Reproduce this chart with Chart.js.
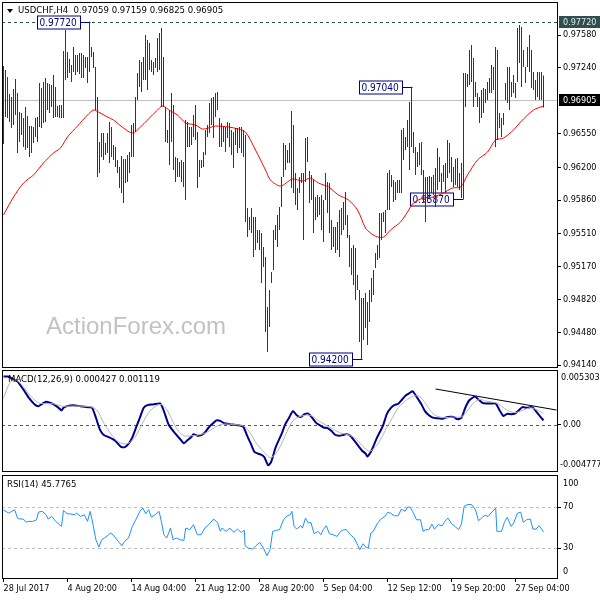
<!DOCTYPE html>
<html>
<head>
<meta charset="utf-8">
<title>USDCHF H4</title>
<script src="https://cdn.jsdelivr.net/npm/chart.js@4.4.1/dist/chart.umd.min.js"></script>
<style>
  html, body { margin: 0; padding: 0; background: #fff; }
  #wrap { position: relative; width: 600px; height: 600px; overflow: hidden; background: #fff; }
  #wrap canvas { position: absolute; left: 0; }
</style>
</head>
<body>
<div id="wrap">
  <canvas id="priceChart" width="600" height="369" style="top:0"></canvas>
  <canvas id="macdChart" width="600" height="104" style="top:369px"></canvas>
  <canvas id="rsiChart" width="600" height="127" style="top:473px"></canvas>
</div>
<script>
// ---- price bars (H4), one per bar from 28 Jul 2017 ----
const barHigh = [
  0.97257, 0.97215, 0.97142, 0.96965, 0.96934, 0.97017, 0.97122, 0.96976, 0.96778, 0.96767,
  0.96715, 0.96830, 0.96736, 0.96632, 0.96632, 0.96621, 0.96715, 0.96725, 0.97080, 0.97028,
  0.97090, 0.97132, 0.97080, 0.97069, 0.97059, 0.97163, 0.97038, 0.96840, 0.96851, 0.96851,
  0.97413, 0.97632, 0.97403, 0.97330, 0.97267, 0.97455, 0.97372, 0.97372, 0.97392, 0.97392,
  0.97372, 0.97351, 0.97351, 0.97720, 0.97455, 0.97403, 0.97247, 0.96934, 0.96465, 0.96559,
  0.96559, 0.96454, 0.96559, 0.96673, 0.96621, 0.96434, 0.96413, 0.96277, 0.96204, 0.96319,
  0.96288, 0.96288, 0.96329, 0.96361, 0.96642, 0.96663, 0.96934, 0.97184, 0.97320, 0.97299,
  0.97351, 0.97580, 0.97528, 0.97497, 0.97320, 0.97299, 0.97340, 0.97549, 0.97601, 0.97653,
  0.97351, 0.96830, 0.96590, 0.96798, 0.96976, 0.96851, 0.96308, 0.96298, 0.96256, 0.96277,
  0.96256, 0.96694, 0.96673, 0.96621, 0.96621, 0.96746, 0.96851, 0.96569, 0.96277, 0.96277,
  0.96361, 0.96590, 0.96642, 0.96871, 0.96923, 0.96934, 0.96976, 0.96986, 0.96715, 0.96663,
  0.96621, 0.96621, 0.96673, 0.96663, 0.96590, 0.96569, 0.96611, 0.96611, 0.96621, 0.96621,
  0.96590, 0.96538, 0.95777, 0.95683, 0.95777, 0.95683, 0.95683, 0.95547, 0.95547, 0.95516,
  0.95370, 0.95266, 0.94745, 0.94922, 0.95110, 0.95547, 0.95600, 0.95704, 0.95787, 0.96100,
  0.96454, 0.96434, 0.96381, 0.96454, 0.96788, 0.96642, 0.96142, 0.95985, 0.96100, 0.96142,
  0.96142, 0.96507, 0.96517, 0.96163, 0.96121, 0.96069, 0.95892, 0.95912, 0.95892, 0.95912,
  0.95860, 0.96142, 0.96048, 0.96037, 0.95652, 0.95579, 0.95579, 0.95631, 0.95756, 0.95777,
  0.95839, 0.95944, 0.95704, 0.95495, 0.95360, 0.95391, 0.95360, 0.95078, 0.94922, 0.94839,
  0.94839, 0.94891, 0.94797, 0.94922, 0.95047, 0.95131, 0.95308, 0.95391, 0.95725, 0.95725,
  0.95735, 0.95756, 0.96142, 0.96173, 0.96121, 0.96069, 0.96048, 0.96069, 0.96069, 0.96590,
  0.96611, 0.96517, 0.96694, 0.96882, 0.97040, 0.96569, 0.96413, 0.96361, 0.96454, 0.96465,
  0.96173, 0.96100, 0.96100, 0.96110, 0.96100, 0.96121, 0.96194, 0.96402, 0.96308, 0.96142,
  0.96225, 0.96246, 0.96486, 0.96454, 0.96308, 0.96204, 0.96288, 0.96298, 0.96142, 0.96246,
  0.97184, 0.97184, 0.97174, 0.97424, 0.97476, 0.97340, 0.97090, 0.96976, 0.96934, 0.97007,
  0.97028, 0.97017, 0.97090, 0.97132, 0.97267, 0.97247, 0.97455, 0.97424, 0.96767, 0.96715,
  0.96767, 0.97080, 0.97247, 0.97247, 0.97090, 0.97163, 0.97080, 0.97653, 0.97684, 0.97664,
  0.97424, 0.97247, 0.97455, 0.97580, 0.97424, 0.97195, 0.97111, 0.97195, 0.97195, 0.97195,
  0.97159
];
const barLow = [
  0.96444, 0.96725, 0.96715, 0.96673, 0.96611, 0.96642, 0.96746, 0.96350, 0.96465, 0.96538,
  0.96413, 0.96381, 0.96402, 0.96308, 0.96350, 0.96454, 0.96517, 0.96465, 0.96621, 0.96611,
  0.96663, 0.96673, 0.96798, 0.96767, 0.96830, 0.96715, 0.96725, 0.96725, 0.96715, 0.96715,
  0.96715, 0.97111, 0.97132, 0.97184, 0.97090, 0.97195, 0.97163, 0.97195, 0.97174, 0.97132,
  0.97132, 0.97236, 0.97080, 0.97195, 0.97351, 0.97236, 0.96798, 0.96100, 0.96142, 0.96308,
  0.96277, 0.96329, 0.96350, 0.96246, 0.96308, 0.96277, 0.96204, 0.96142, 0.95985, 0.95933,
  0.95829, 0.96037, 0.96048, 0.96142, 0.96308, 0.96308, 0.96569, 0.96903, 0.97038, 0.96986,
  0.97111, 0.97111, 0.97007, 0.97215, 0.97195, 0.97163, 0.97236, 0.97195, 0.97215, 0.96830,
  0.96830, 0.96465, 0.96454, 0.96225, 0.96465, 0.96173, 0.96048, 0.96100, 0.96100, 0.96048,
  0.95996, 0.95860, 0.96413, 0.96413, 0.96434, 0.96517, 0.96486, 0.95985, 0.96100, 0.96194,
  0.96204, 0.96329, 0.96517, 0.96559, 0.96642, 0.96507, 0.96725, 0.96798, 0.96413, 0.96413,
  0.96465, 0.96361, 0.96507, 0.96413, 0.96329, 0.96194, 0.96434, 0.96350, 0.96402, 0.96350,
  0.96308, 0.95631, 0.95475, 0.95547, 0.95516, 0.95266, 0.95339, 0.95412, 0.95339, 0.94995,
  0.95162, 0.94484, 0.94276, 0.94536, 0.94995, 0.95131, 0.95443, 0.95370, 0.95547, 0.95787,
  0.96100, 0.96173, 0.96246, 0.96246, 0.95985, 0.95933, 0.95808, 0.95756, 0.95933, 0.96037,
  0.95443, 0.96048, 0.96256, 0.95829, 0.95860, 0.95516, 0.95652, 0.95683, 0.95704, 0.95547,
  0.95422, 0.95860, 0.95725, 0.95516, 0.95339, 0.95370, 0.95308, 0.95339, 0.95266, 0.95495,
  0.95547, 0.95600, 0.95464, 0.95162, 0.95078, 0.94974, 0.94818, 0.94922, 0.94380, 0.94200,
  0.94401, 0.94526, 0.94349, 0.94589, 0.94797, 0.94870, 0.95151, 0.95235, 0.95256, 0.95443,
  0.95631, 0.95516, 0.95756, 0.95756, 0.95996, 0.95839, 0.95860, 0.95933, 0.95933, 0.95933,
  0.96277, 0.96381, 0.96413, 0.96173, 0.96413, 0.96350, 0.96121, 0.96204, 0.96225, 0.96121,
  0.95829, 0.95631, 0.95839, 0.95892, 0.95933, 0.95912, 0.95787, 0.95964, 0.96048, 0.95933,
  0.96048, 0.95933, 0.96090, 0.96142, 0.96048, 0.95996, 0.96017, 0.95996, 0.95964, 0.95881,
  0.95870, 0.96830, 0.97038, 0.97059, 0.97090, 0.96830, 0.96934, 0.96830, 0.96663, 0.96715,
  0.96767, 0.96871, 0.96903, 0.96976, 0.96976, 0.97007, 0.96413, 0.96486, 0.96611, 0.96517,
  0.96642, 0.96903, 0.96871, 0.96798, 0.96934, 0.96976, 0.96923, 0.97090, 0.97288, 0.97038,
  0.97247, 0.97080, 0.97247, 0.97195, 0.97028, 0.97007, 0.96903, 0.96934, 0.96903, 0.96903,
  0.96825
];

// moving average (red), read at bar positions
const maIdx = [0, 5, 10, 15, 20, 25, 28.5, 32, 37, 42, 45, 47.5, 52, 55, 60, 64.5, 68.5, 72, 77, 79.5,
  83.5, 87, 91, 93.5, 96, 99.5, 102.5, 106, 112.5, 117.5, 121, 126, 131, 133.5, 138.5, 144.5, 149.5, 153.5, 157.5, 162.5,
  167.5, 172.5, 177, 181, 183.5, 187, 190, 193.5, 198.5, 202, 205, 210, 215, 220, 224.5, 228.5, 232, 237, 242, 246,
  250, 255, 258.5, 265, 270];
const maVal = [0.95704, 0.95891, 0.96037, 0.96121, 0.96246, 0.96350, 0.96402, 0.96517, 0.96631, 0.96746,
  0.96798, 0.96777, 0.96725, 0.96694, 0.96611, 0.96558, 0.96621, 0.96694, 0.96798, 0.96840,
  0.96788, 0.96746, 0.96663, 0.96652, 0.96642, 0.96600, 0.96611, 0.96631, 0.96621, 0.96600,
  0.96569, 0.96381, 0.96173, 0.96068, 0.96006, 0.96079, 0.96058, 0.96089, 0.96037, 0.95996,
  0.95912, 0.95860, 0.95756, 0.95568, 0.95516, 0.95474, 0.95474, 0.95547, 0.95631, 0.95735,
  0.95829, 0.95881, 0.95891, 0.95933, 0.95985, 0.95995, 0.96121, 0.96277, 0.96360, 0.96485,
  0.96506, 0.96590, 0.96673, 0.96798, 0.96840];

// MACD(12,26,9) main and signal
const macdIdx = [0, 2, 4, 7, 10, 12.7, 15.6, 17.5, 19.4, 21.3,
  23.2, 25.1, 27.1, 29, 30, 31.8, 34.7, 38.5, 42.4, 44.3,
  46.2, 48.1, 50, 52.9, 55.8, 58.6, 60.5, 62.5, 64.4, 66.3,
  68.2, 70.1, 72, 74.9, 78.3, 80.2, 82.5, 85.4, 88.3, 90.2,
  92.1, 94, 95, 96.9, 98.8, 100.7, 102.6, 104.6, 106.5, 108.4,
  110.3, 113.2, 117, 119.9, 121.8, 123.7, 125.6, 128.5, 130.4, 132.3,
  133.8, 136.1, 139, 140.9, 142.8, 144.7, 146.6, 148.6, 150.5, 152.4,
  154.3, 156.2, 158.1, 160, 162, 163.9, 165.8, 167.7, 169.6, 171.5,
  173.4, 175.4, 177.3, 179.2, 181.1, 182, 184, 186.8, 189.7, 191.6,
  193.5, 195.4, 197.4, 199.3, 201.2, 203.1, 204.6, 206.9, 208.8, 210.7,
  212.7, 214.6, 216.5, 219.4, 222.2, 225.1, 227, 229, 230.9, 232.8,
  235.6, 237.5, 239.5, 241.4, 244.2, 246.1, 248.1, 250, 251.9, 253.8,
  255.7, 257.6, 259.5, 261.5, 264.3, 266.2, 268.1, 270];
const macdVal = [0.00485, 0.00485, 0.00468, 0.00435, 0.00352, 0.00269, 0.00203, 0.00186, 0.00210, 0.00230,
  0.00220, 0.00203, 0.00176, 0.00143, 0.00170, 0.00186, 0.00196, 0.00186, 0.00176, 0.00170,
  0.00070, -0.00045, -0.00102, -0.00129, -0.00162, -0.00222, -0.00228, -0.00195, -0.00129, -0.00029,
  0.00070, 0.00170, 0.00196, 0.00203, 0.00213, 0.00136, 0.00004, -0.00079, -0.00145, -0.00188,
  -0.00155, -0.00122, -0.00096, -0.00112, -0.00106, -0.00079, -0.00029, 0.00010, 0.00043, 0.00037,
  0.00014, 0.00004, -0.00006, -0.00022, -0.00112, -0.00195, -0.00278, -0.00301, -0.00328, -0.00410,
  -0.00377, -0.00228, -0.00096, 0.00004, 0.00070, 0.00136, 0.00094, 0.00077, 0.00104, 0.00110,
  0.00070, 0.00020, -0.00006, -0.00029, -0.00036, -0.00063, -0.00102, -0.00112, -0.00106, -0.00096,
  -0.00112, -0.00162, -0.00212, -0.00261, -0.00294, -0.00321, -0.00261, -0.00129, -0.00013, 0.00104,
  0.00163, 0.00196, 0.00210, 0.00253, 0.00295, 0.00319, 0.00336, 0.00269, 0.00210, 0.00136,
  0.00094, 0.00070, 0.00064, 0.00060, 0.00077, 0.00077, 0.00053, 0.00070, 0.00170, 0.00243,
  0.00282, 0.00253, 0.00220, 0.00213, 0.00213, 0.00213, 0.00143, 0.00087, 0.00110, 0.00104,
  0.00110, 0.00143, 0.00176, 0.00170, 0.00176, 0.00136, 0.00087, 0.00043];
const sigIdx = [0, 3.1, 6, 9.8, 13.7, 17.5, 21.3, 25.1, 29, 32.8,
  38.5, 44.3, 47.1, 50, 53.8, 57.7, 60.5, 63.4, 66.3, 69.2,
  72, 74.9, 78.7, 81.6, 84.5, 87.3, 90.2, 94, 97.9, 101.7,
  105.5, 109.3, 113.2, 117, 120.8, 123.7, 126.6, 130.4, 133.3, 136.1,
  139, 141.9, 144.7, 147.6, 151.4, 154.3, 157.2, 161, 164.8, 168.6,
  172.5, 176.3, 180.1, 183, 185.9, 188.7, 191.6, 194.5, 197.4, 201.2,
  205, 207.9, 210.8, 213.6, 216.5, 220.3, 225.1, 229, 231.8, 235.6,
  238.5, 241.4, 246.1, 249, 251.9, 255.7, 259.5, 263.4, 266.2, 270];
const sigVal = [0.00269, 0.00418, 0.00452, 0.00385, 0.00286, 0.00220, 0.00210, 0.00210, 0.00186, 0.00186,
  0.00186, 0.00176, 0.00136, 0.00020, -0.00096, -0.00178, -0.00195, -0.00178, -0.00112, 0.00004,
  0.00104, 0.00170, 0.00203, 0.00153, 0.00037, -0.00063, -0.00112, -0.00112, -0.00102, -0.00079,
  -0.00029, 0.00004, 0.00004, -0.00003, -0.00022, -0.00096, -0.00195, -0.00278, -0.00334, -0.00294,
  -0.00195, -0.00063, 0.00037, 0.00077, 0.00097, 0.00087, 0.00043, -0.00003, -0.00045, -0.00085,
  -0.00102, -0.00145, -0.00228, -0.00268, -0.00228, -0.00145, -0.00029, 0.00070, 0.00170, 0.00243,
  0.00286, 0.00286, 0.00220, 0.00136, 0.00087, 0.00070, 0.00077, 0.00077, 0.00136, 0.00230,
  0.00253, 0.00236, 0.00220, 0.00186, 0.00143, 0.00120, 0.00143, 0.00169, 0.00153, 0.00112];
const trendIdx = [216, 276.5];
const trendVal = [0.00359, 0.00147];

// RSI(14)
const rsiIdx = [0, 1.2, 2.6, 4.1, 5.6, 7, 8.3, 9.8, 11.4, 12.7,
  14.6, 16.5, 17.5, 19.4, 21.3, 22.3, 24.2, 26.1, 28, 29,
  30, 31.8, 33.7, 35.7, 36.6, 38.5, 40.4, 42, 43.3, 44.3,
  46.2, 47.7, 49.1, 50.4, 51.9, 53.5, 54.8, 56.7, 59.2, 60.5,
  62.5, 64.4, 66.3, 68.2, 69.7, 71.1, 72.6, 73.9, 75.8, 77.8,
  79.1, 80.2, 81.6, 83.5, 84.8, 86.4, 88.3, 90.2, 91.1, 93.1,
  95, 96.9, 98.8, 100.7, 102.6, 105.1, 107, 108.4, 109.3, 111.3,
  113.2, 115.1, 117, 118.9, 120.4, 120.8, 122.3, 124.6, 126.2, 128.1,
  130, 131.7, 133.3, 134.6, 136.1, 138, 140, 141.9, 143.4, 144.2,
  145.3, 146.6, 148.6, 149.5, 151, 152.4, 153.7, 155.3, 157.2, 158.7,
  160, 161.4, 162.9, 164.8, 166.7, 168.6, 170.2, 171.5, 173.4, 175.4,
  176.7, 178.2, 179.8, 181.1, 182.4, 183.6, 184.9, 186.8, 188.7, 190.7,
  192, 193.5, 195.4, 197.4, 198.9, 200.8, 202.1, 203.1, 204.6, 206.5,
  208.5, 209.8, 211.1, 212.7, 214.2, 215.5, 217.4, 219.4, 220.7, 222.2,
  223.8, 226.1, 227.6, 229, 230.3, 232.2, 234.1, 236, 237.5, 239.1,
  240.6, 242.3, 244.2, 246.1, 246.7, 249, 250.6, 251.9, 253.8, 255.1,
  257, 258.6, 259.9, 261.5, 263.4, 264.7, 266.2, 267.8, 269.1, 270];
const rsiVal = [67.4, 65.8, 64.1, 65.8, 67.4, 59.3, 58.3, 58.3, 55.4, 56.0,
  56.0, 57.6, 65.1, 65.8, 62.5, 58.3, 60.9, 56.0, 52.8, 51.1,
  66.7, 63.5, 63.2, 62.5, 64.1, 60.9, 62.5, 56.0, 65.8, 57.6,
  38.1, 31.0, 38.1, 39.8, 42.0, 44.6, 43.0, 38.1, 32.3, 36.5,
  39.8, 51.1, 58.3, 65.8, 69.0, 63.5, 67.4, 60.2, 62.5, 65.8,
  54.4, 43.0, 39.8, 49.5, 38.1, 39.8, 38.1, 37.5, 49.5, 47.9,
  52.8, 43.0, 43.0, 49.5, 52.8, 58.3, 55.0, 46.3, 49.5, 46.3,
  49.5, 45.3, 48.5, 45.3, 47.2, 32.3, 30.0, 29.0, 32.3, 35.5,
  30.0, 22.5, 28.4, 46.3, 47.2, 47.9, 57.6, 61.5, 62.5, 65.8,
  51.1, 48.5, 51.8, 49.5, 59.3, 54.4, 55.0, 44.0, 46.3, 43.0,
  48.5, 51.8, 44.0, 43.0, 41.4, 46.3, 47.9, 47.9, 43.0, 39.8,
  34.2, 28.4, 34.2, 31.0, 30.0, 44.6, 46.3, 53.7, 58.3, 60.9,
  64.8, 64.1, 61.5, 61.5, 68.0, 65.8, 70.0, 70.0, 65.8, 57.6,
  57.6, 46.3, 47.9, 47.9, 53.4, 48.5, 52.8, 51.8, 56.0, 59.3,
  54.4, 50.5, 47.9, 53.7, 70.7, 72.6, 72.3, 67.4, 56.7, 59.3,
  61.9, 60.9, 65.1, 69.0, 46.3, 46.3, 56.0, 59.9, 51.1, 54.4,
  64.1, 65.1, 55.0, 57.6, 58.3, 48.5, 48.5, 51.8, 48.5, 45.8];

// axes and labels
const priceTicks = [0.97580, 0.97240, 0.96550, 0.96200, 0.95860, 0.95510, 0.95170, 0.94820, 0.94480, 0.94140];
const tickBars = [0, 32, 64, 96, 128, 160, 192, 224, 256];
const dateLabels = ['28 Jul 2017', '4 Aug 20:00', '14 Aug 04:00', '21 Aug 12:00', '28 Aug 20:00',
  '5 Sep 04:00', '12 Sep 12:00', '19 Sep 20:00', '27 Sep 04:00'];
const swingBars = [43, 204, 230, 179];
const swingPrices = [0.97720, 0.97040, 0.95870, 0.94200];
const lastOHLC = [0.97059, 0.97159, 0.96825, 0.96905];
const periodHigh = 0.97720;
const macdNow = [0.000427, 0.001119];
const macdEnds = [0.005303, -0.004777];
const rsiNow = 45.7765;

const X_MIN = -0.75, X_MAX = 277.25;   // 2px per bar
const FONT = '"DejaVu Sans Condensed", "Liberation Sans", Arial, sans-serif';
const BAR_COLOR = '#143e5b';
const NAVY = '#000080';

Chart.defaults.font.family = FONT;
Chart.defaults.font.size = 9;
Chart.defaults.color = '#000';
Chart.defaults.animation = false;
Chart.defaults.plugins.legend.display = false;
Chart.defaults.plugins.tooltip.enabled = false;

const pts = (xs, ys) => xs.map((x, i) => ({ x: x, y: ys[i] }));

function xAxis(show) {
  return {
    type: 'linear', min: X_MIN, max: X_MAX, offset: false, display: show,
    grid: { drawOnChartArea: false, tickLength: 3, color: '#000' },
    border: { display: false },
    ticks: { autoSkip: false, maxRotation: 0, align: 'start', padding: 1,
             callback: (v, i) => dateLabels[i] },
    afterBuildTicks: s => { s.ticks = tickBars.map(v => ({ value: v })); },
    afterFit: s => {
      if (show) { s.height = 21; }
      s.paddingLeft = 0; s.paddingRight = 0;
    }
  };
}

function yAxis(min, max, values, fmt) {
  return {
    position: 'right', min: min, max: max,
    grid: { drawOnChartArea: false, tickLength: 3, color: '#000' },
    border: { display: false },
    ticks: { padding: 2, callback: fmt },
    afterBuildTicks: s => { s.ticks = values.map(v => ({ value: v })); },
    afterFit: s => { s.width = 42; s.paddingTop = 0; s.paddingBottom = 0; }
  };
}

// black frame round each panel
const frame = {
  id: 'frame',
  afterDraw(chart) {
    const { ctx, chartArea: a } = chart;
    ctx.save();
    ctx.strokeStyle = '#000';
    ctx.lineWidth = 1;
    ctx.strokeRect(a.left + 0.5, a.top + 0.5, a.width - 1, a.height - 1);
    ctx.restore();
  }
};

function hLine(ctx, a, py, color, dash) {
  const yy = Math.round(py) + 0.5;
  ctx.strokeStyle = color;
  ctx.lineWidth = 1;
  ctx.setLineDash(dash);
  ctx.beginPath();
  ctx.moveTo(a.left, yy);
  ctx.lineTo(a.right, yy);
  ctx.stroke();
  ctx.setLineDash([]);
}

const priceDecor = {
  id: 'priceDecor',
  beforeDatasetsDraw(chart) {
    const { ctx, chartArea: a, scales: { x, y } } = chart;
    ctx.save();
    // watermark
    ctx.fillStyle = '#c2c2c2';
    ctx.font = '24px "Liberation Sans", Arial, sans-serif';
    ctx.textBaseline = 'alphabetic';
    ctx.fillText('ActionForex.com', 46, 334);

    hLine(ctx, a, y.getPixelForValue(periodHigh), '#2f4f4f', [3, 3]);
    hLine(ctx, a, y.getPixelForValue(lastOHLC[3]), '#c0c0c0', []);

    // swing high/low price labels
    ctx.font = '10px ' + FONT;
    ctx.textBaseline = 'middle';
    swingBars.forEach((k, i) => {
      const px = Math.round(x.getPixelForValue(k)) + 0.5;
      const py = Math.round(y.getPixelForValue(swingPrices[i])) + 0.5;
      const w = 43, h = 13, bx = px - 10 - w;
      ctx.fillStyle = '#fff';
      ctx.fillRect(bx, py - 6.5, w, h);
      ctx.strokeStyle = NAVY;
      ctx.lineWidth = 1;
      ctx.strokeRect(bx, py - 6.5, w, h);
      ctx.beginPath();
      ctx.moveTo(bx + w, py);
      ctx.lineTo(px, py);
      ctx.stroke();
      ctx.fillStyle = NAVY;
      ctx.fillText(swingPrices[i].toFixed(5), bx + 2, py + 0.5);
    });
    ctx.restore();
  },
  afterDraw(chart) {
    const { ctx, chartArea: a, scales: { y } } = chart;
    ctx.save();
    // symbol header
    ctx.fillStyle = '#000';
    ctx.beginPath();
    ctx.moveTo(7, 9); ctx.lineTo(13, 9); ctx.lineTo(10, 13); ctx.closePath();
    ctx.fill();
    ctx.font = '9.5px ' + FONT;
    ctx.textBaseline = 'middle';
    ctx.fillText('USDCHF,H4  ' + lastOHLC.map(v => v.toFixed(5)).join(' '), 18, a.top + 9);

    // highlighted prices on the axis
    ctx.font = '9px ' + FONT;
    [[periodHigh, '#2f4f4f', '#e6e6e6'], [lastOHLC[3], '#000', '#fff']].forEach(r => {
      const py = Math.round(y.getPixelForValue(r[0]));
      ctx.fillStyle = r[1];
      ctx.fillRect(a.right + 1, py - 6, 600 - a.right - 1, 12);
      ctx.fillStyle = r[2];
      ctx.fillText(r[0].toFixed(5), a.right + 5, py + 0.5);
    });
    ctx.restore();
  }
};

new Chart(document.getElementById('priceChart'), {
  type: 'bar',
  data: {
    datasets: [
      {
        type: 'bar',
        data: barHigh.map((h, i) => ({ x: i, y: [barLow[i], h] })),
        backgroundColor: BAR_COLOR,
        borderWidth: 0,
        barThickness: 1,
        inflateAmount: 0,
        grouped: false
      },
      {
        type: 'line',
        data: pts(maIdx, maVal),
        borderColor: '#ff0000',
        borderWidth: 1,
        pointRadius: 0,
        tension: 0.3
      }
    ]
  },
  options: {
    responsive: false,
    maintainAspectRatio: false,
    layout: { padding: { left: 2, top: 2, bottom: 1, right: 0 } },
    scales: {
      x: xAxis(false),
      y: yAxis(0.94109, 0.97924, priceTicks, v => v.toFixed(5))
    }
  },
  plugins: [priceDecor, frame]
});

const macdDecor = {
  id: 'macdDecor',
  beforeDatasetsDraw(chart) {
    const { ctx, chartArea: a, scales: { y } } = chart;
    ctx.save();
    hLine(ctx, a, y.getPixelForValue(0), '#555', [3, 3]);
    ctx.restore();
  },
  afterDraw(chart) {
    const { ctx, chartArea: a } = chart;
    ctx.save();
    ctx.fillStyle = '#000';
    ctx.font = '9.5px ' + FONT;
    ctx.textBaseline = 'middle';
    ctx.fillText('MACD(12,26,9) ' + macdNow[0].toFixed(6) + ' ' + macdNow[1].toFixed(6), 8, a.top + 10);
    ctx.font = '9px ' + FONT;
    ctx.fillText(macdEnds[0].toFixed(6), a.right + 3, a.top + 8);
    ctx.fillText(macdEnds[1].toFixed(6), a.right + 2, a.bottom - 7);
    ctx.restore();
  }
};

new Chart(document.getElementById('macdChart'), {
  type: 'line',
  data: {
    datasets: [
      { data: pts(sigIdx, sigVal), borderColor: '#b4b4b4', borderWidth: 1, pointRadius: 0, tension: 0.3 },
      { data: pts(macdIdx, macdVal), borderColor: '#00008b', borderWidth: 2, pointRadius: 0, tension: 0.2 },
      { data: pts(trendIdx, trendVal), borderColor: '#000', borderWidth: 1, pointRadius: 0 }
    ]
  },
  options: {
    responsive: false,
    maintainAspectRatio: false,
    layout: { padding: { left: 2, top: 1, bottom: 1, right: 0 } },
    scales: {
      x: xAxis(false),
      y: yAxis(-0.004778, 0.005504, [0], () => '0.00')
    }
  },
  plugins: [macdDecor, frame]
});

const rsiDecor = {
  id: 'rsiDecor',
  beforeDatasetsDraw(chart) {
    const { ctx, chartArea: a, scales: { y } } = chart;
    ctx.save();
    hLine(ctx, a, y.getPixelForValue(70), '#c0c0c0', [3, 3]);
    hLine(ctx, a, y.getPixelForValue(30), '#c0c0c0', [3, 3]);
    ctx.restore();
  },
  afterDraw(chart) {
    const { ctx, chartArea: a, scales: { y } } = chart;
    ctx.save();
    ctx.fillStyle = '#000';
    ctx.font = '9.5px ' + FONT;
    ctx.textBaseline = 'middle';
    ctx.fillText('RSI(14) ' + rsiNow.toFixed(4), 7, a.top + 10);
    ctx.font = '9px ' + FONT;
    ctx.fillText('100', a.right + 5, y.getPixelForValue(100) + 7);
    ctx.fillText('0', a.right + 5, y.getPixelForValue(0) - 7);
    ctx.restore();
  }
};

new Chart(document.getElementById('rsiChart'), {
  type: 'line',
  data: {
    datasets: [
      { data: pts(rsiIdx, rsiVal), borderColor: '#1e90ff', borderWidth: 1, pointRadius: 0, tension: 0 }
    ]
  },
  options: {
    responsive: false,
    maintainAspectRatio: false,
    layout: { padding: { left: 2, top: 2, bottom: 0, right: 0 } },
    scales: {
      x: xAxis(true),
      y: yAxis(-0.2, 101.3, [70, 30], v => String(v))
    }
  },
  plugins: [rsiDecor, frame]
});
</script>
</body>
</html>
